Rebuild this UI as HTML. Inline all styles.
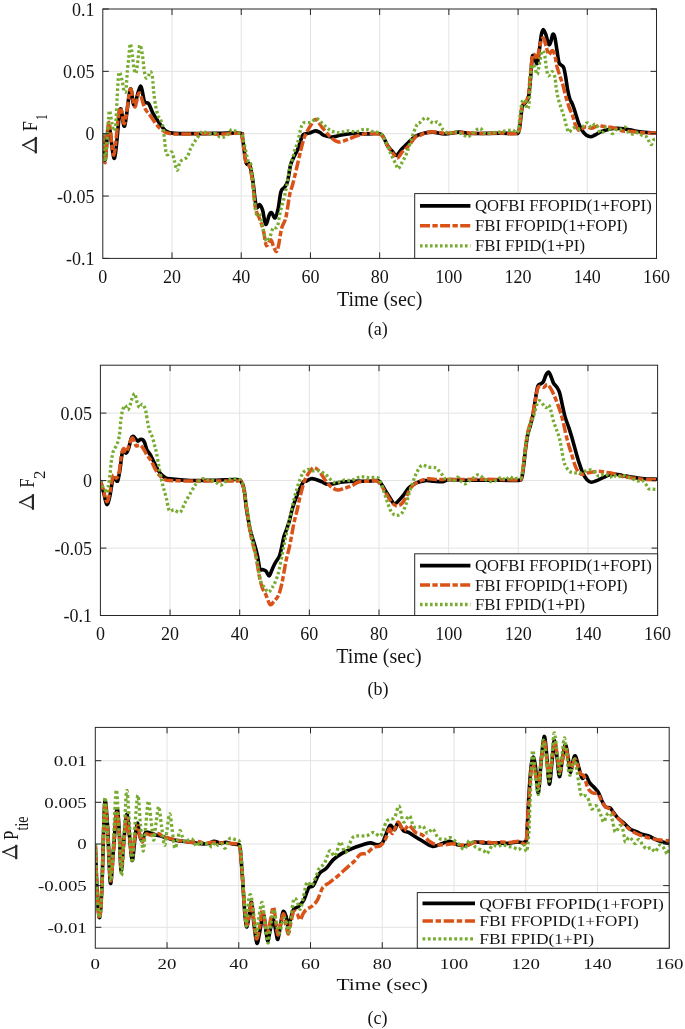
<!DOCTYPE html>
<html><head><meta charset="utf-8"><style>
html,body{margin:0;padding:0;background:#fff;width:685px;height:1029px;overflow:hidden}
svg{display:block;will-change:transform}
text{font-family:"Liberation Serif",serif;fill:#141414}
</style></head><body>
<svg width="685" height="1029" viewBox="0 0 685 1029">
<rect width="685" height="1029" fill="#fff"/>
<clipPath id="c1"><rect x="102.8" y="9.0" width="553.7" height="249.39999999999998"/></clipPath>
<path d="M172.01,9.0V258.4M241.23,9.0V258.4M310.44,9.0V258.4M379.65,9.0V258.4M448.86,9.0V258.4M518.08,9.0V258.4M587.29,9.0V258.4M102.8,71.35H656.5M102.8,133.70H656.5M102.8,196.05H656.5" stroke="#e3e3e3" stroke-width="1" fill="none"/>
<g clip-path="url(#c1)" fill="none" stroke-linejoin="round">
<path d="M102.5,133.5C102.9,137.9 104.0,161.3 105.1,160.1C106.1,158.8 107.2,126.3 108.8,126.0C110.4,125.7 112.6,160.9 114.5,158.2C116.4,155.4 118.5,114.9 120.2,109.5C121.9,104.1 122.9,129.4 124.6,126.0C126.3,122.6 128.7,92.8 130.3,89.3C131.9,85.8 132.4,105.6 134.1,105.1C135.8,104.6 138.7,86.8 140.4,86.2C142.1,85.6 143.1,98.6 144.5,101.5C145.9,104.4 147.2,101.5 148.6,103.5C150.0,105.5 151.1,109.9 153.0,113.3C154.9,116.7 157.9,121.1 160.0,124.0C162.1,126.9 163.4,129.3 165.8,130.9C168.2,132.5 168.9,133.0 174.6,133.4C180.3,133.8 192.4,133.6 200.0,133.6C207.6,133.6 213.3,133.4 220.0,133.3C226.7,133.2 236.6,132.5 240.3,133.2C244.1,133.9 241.6,132.7 242.5,137.5C243.4,142.3 244.8,157.8 246.0,162.3C247.2,166.8 248.5,161.8 249.6,164.5C250.7,167.2 251.4,171.5 252.5,178.4C253.6,185.3 255.0,201.7 256.2,206.1C257.4,210.5 258.7,204.0 259.8,204.7C260.9,205.4 261.7,207.2 262.7,210.5C263.7,213.8 264.6,223.7 265.7,224.4C266.8,225.1 268.3,216.9 269.3,214.9C270.3,212.9 270.5,212.2 271.5,212.7C272.5,213.2 274.0,218.4 275.1,217.8C276.2,217.2 277.1,213.4 278.1,209.0C279.1,204.6 279.9,195.1 281.0,191.5C282.1,187.9 283.5,188.9 284.6,187.2C285.7,185.5 286.6,185.0 287.6,181.3C288.6,177.7 289.5,169.2 290.5,165.3C291.5,161.4 292.2,160.7 293.4,158.0C294.6,155.3 296.3,152.8 297.8,149.2C299.3,145.5 301.0,138.6 302.2,136.1C303.4,133.6 303.9,134.4 305.1,133.9C306.3,133.4 307.8,133.6 309.5,133.1C311.2,132.6 313.6,131.0 315.3,130.9C317.0,130.8 318.2,131.7 319.7,132.4C321.1,133.1 322.0,134.5 324.0,135.3C326.0,136.1 328.8,137.0 331.5,137.0C334.2,137.0 336.8,135.9 340.3,135.3C343.8,134.7 348.2,133.7 352.6,133.5C357.0,133.3 362.5,133.9 366.6,133.9C370.7,133.9 374.5,133.3 377.1,133.5C379.7,133.7 380.6,133.2 382.3,135.3C384.1,137.4 386.0,143.2 387.6,145.8C389.2,148.4 390.5,149.4 392.0,151.0C393.5,152.6 394.8,155.7 396.4,155.4C398.0,155.1 399.6,151.5 401.6,149.3C403.6,147.1 406.3,144.5 408.6,142.3C410.9,140.1 413.0,137.7 415.6,136.2C418.2,134.7 421.1,133.9 424.0,133.2C426.9,132.5 429.3,132.0 432.8,132.1C436.3,132.2 440.6,133.9 445.0,133.9C449.4,133.9 454.8,132.2 459.0,132.1C463.2,132.0 463.2,133.3 470.0,133.5C476.8,133.7 492.5,133.2 500.0,133.2C507.5,133.2 512.0,133.6 515.1,133.5C518.2,133.4 517.5,134.2 518.4,132.5C519.2,130.8 519.6,127.6 520.2,123.4C520.8,119.2 521.4,110.5 522.2,107.1C523.0,103.7 524.0,104.6 525.0,103.0C526.0,101.4 527.5,101.3 528.4,97.5C529.3,93.7 529.7,86.7 530.4,79.9C531.1,73.1 531.7,60.3 532.4,56.7C533.1,53.1 533.7,57.0 534.5,58.1C535.3,59.2 536.4,64.6 537.2,63.5C538.0,62.4 538.5,56.0 539.2,51.3C539.9,46.5 540.6,38.6 541.3,35.0C542.0,31.4 542.5,29.5 543.3,29.5C544.1,29.5 545.1,32.5 546.0,35.0C546.9,37.5 547.9,43.4 548.7,44.5C549.5,45.6 550.1,43.5 550.8,41.8C551.5,40.1 552.1,35.0 552.8,34.3C553.5,33.6 554.2,35.1 554.9,37.7C555.6,40.3 556.2,45.8 556.9,49.9C557.6,54.0 558.2,59.7 558.9,62.2C559.6,64.7 560.2,64.0 561.0,64.9C561.8,65.8 562.9,65.6 563.7,67.6C564.5,69.6 565.0,73.2 565.7,77.1C566.4,80.9 567.1,87.1 567.8,90.7C568.5,94.3 569.0,96.6 569.8,98.9C570.6,101.2 571.6,102.1 572.5,104.4C573.4,106.7 574.3,109.3 575.3,112.5C576.3,115.7 577.6,120.5 578.7,123.4C579.8,126.4 580.8,128.3 582.0,130.2C583.2,132.1 584.6,133.9 586.1,135.0C587.6,136.1 589.4,136.7 590.9,136.7C592.4,136.7 593.3,135.8 595.0,135.0C596.7,134.2 599.1,132.5 601.1,131.6C603.1,130.7 605.2,130.2 607.3,129.7C609.4,129.2 611.2,128.7 613.5,128.5C615.8,128.3 618.3,128.3 621.0,128.5C623.7,128.7 626.7,129.2 629.6,129.7C632.5,130.2 635.4,131.1 638.3,131.6C641.2,132.1 644.0,132.3 647.0,132.5C650.0,132.7 655.0,132.8 656.6,132.8" stroke="#000" stroke-width="3.6"/>
<path d="M102.5,133.5C102.9,138.3 104.0,164.5 105.1,162.6C106.1,160.7 107.3,123.5 108.8,122.2C110.3,120.9 112.1,157.3 113.9,155.0C115.7,152.7 117.8,113.5 119.6,108.2C121.4,102.9 122.8,126.6 124.6,123.4C126.4,120.2 128.6,92.0 130.3,89.3C132.0,86.6 133.2,106.4 134.7,107.0C136.2,107.6 137.5,92.9 139.2,93.1C140.9,93.3 142.9,104.4 144.8,108.2C146.7,112.0 148.7,113.4 150.5,115.9C152.3,118.4 154.0,121.3 155.6,123.4C157.2,125.5 158.3,127.0 160.0,128.5C161.7,130.0 163.8,131.4 165.8,132.3C167.8,133.2 168.0,133.5 172.0,133.8C176.0,134.1 184.5,134.1 190.0,134.0C195.5,133.9 200.0,133.5 205.0,133.5C210.0,133.5 214.1,134.2 220.0,134.2C225.9,134.2 236.8,132.7 240.5,133.5C244.2,134.3 241.4,134.2 242.3,139.0C243.2,143.8 244.8,157.7 246.0,162.3C247.2,166.9 248.5,163.5 249.6,166.7C250.7,169.9 251.5,174.5 252.5,181.3C253.5,188.1 254.2,201.3 255.4,207.6C256.6,213.9 258.4,215.4 259.8,219.3C261.2,223.2 262.4,226.6 263.5,231.0C264.6,235.4 265.2,244.1 266.4,245.5C267.6,246.9 269.6,239.4 270.8,239.7C272.0,239.9 272.7,245.1 273.7,247.0C274.7,248.9 275.8,251.9 276.6,251.4C277.5,250.9 278.0,248.0 278.8,244.1C279.6,240.2 280.6,232.1 281.7,228.0C282.8,223.9 284.4,222.7 285.4,219.3C286.4,215.9 286.9,211.7 287.6,207.6C288.3,203.5 288.9,198.4 289.7,194.5C290.5,190.6 291.6,188.3 292.7,184.2C293.8,180.0 295.0,175.2 296.3,169.6C297.6,164.0 299.4,156.0 300.7,150.7C302.0,145.3 303.1,140.9 304.3,137.5C305.5,134.1 306.8,132.1 307.9,130.0C309.0,127.9 309.7,126.8 311.0,125.0C312.3,123.2 313.8,119.0 315.8,119.5C317.8,120.0 320.2,125.2 322.8,128.3C325.4,131.4 328.9,135.6 331.5,137.9C334.1,140.2 335.9,141.7 338.5,142.0C341.1,142.3 344.4,140.7 347.3,139.7C350.2,138.7 352.9,137.2 356.1,136.2C359.3,135.2 363.1,133.9 366.6,133.5C370.1,133.1 374.5,133.5 377.1,133.9C379.7,134.3 380.6,134.0 382.3,136.0C384.1,138.0 386.0,143.1 387.6,145.8C389.2,148.5 390.4,150.0 392.0,152.0C393.6,154.0 395.6,157.9 397.2,158.0C398.8,158.1 399.7,154.8 401.6,152.8C403.5,150.8 406.3,148.4 408.6,145.8C410.9,143.2 413.7,138.7 415.6,137.0C417.5,135.3 418.6,136.1 420.0,135.5C421.4,134.9 421.9,134.1 424.0,133.5C426.1,132.9 429.3,131.9 432.8,131.8C436.3,131.8 440.5,133.1 445.0,133.2C449.5,133.3 454.2,132.4 460.0,132.5C465.8,132.6 473.3,133.4 480.0,133.5C486.7,133.6 493.8,133.1 500.0,133.0C506.2,132.9 514.1,135.1 517.5,133.0C520.9,130.9 519.4,125.2 520.2,120.7C521.0,116.2 521.3,108.9 522.2,105.7C523.1,102.5 524.6,103.4 525.6,101.6C526.6,99.8 527.6,99.3 528.4,94.8C529.2,90.3 529.7,80.8 530.4,74.4C531.1,68.1 531.7,60.0 532.4,56.7C533.1,53.4 533.7,54.2 534.5,54.7C535.3,55.2 536.4,60.5 537.2,59.5C538.0,58.5 538.4,52.0 539.2,48.6C540.0,45.2 541.1,40.6 541.9,39.0C542.7,37.4 543.3,37.9 544.0,39.0C544.7,40.1 545.2,43.3 546.0,45.9C546.8,48.5 547.9,53.7 548.7,54.7C549.5,55.7 550.1,52.7 550.8,52.0C551.5,51.3 552.1,50.0 552.8,50.6C553.5,51.2 554.2,52.8 554.9,55.4C555.6,58.0 556.0,62.7 556.9,66.3C557.8,69.9 559.3,73.9 560.3,77.1C561.3,80.3 562.1,82.1 563.0,85.3C563.9,88.5 564.7,92.6 565.7,96.2C566.7,99.8 568.0,103.9 569.1,107.1C570.2,110.3 571.5,112.2 572.5,115.2C573.5,118.2 574.3,122.3 575.3,124.8C576.3,127.3 577.6,129.5 578.7,130.2C579.8,130.9 580.8,129.4 582.0,128.8C583.2,128.2 584.5,126.9 586.1,126.8C587.7,126.7 589.7,128.3 591.6,128.2C593.5,128.1 595.2,126.3 597.4,126.0C599.6,125.7 602.5,126.4 604.8,126.6C607.1,126.8 608.9,126.9 611.0,127.3C613.1,127.7 615.1,128.5 617.2,129.1C619.3,129.7 620.9,130.6 623.4,131.0C625.9,131.4 629.0,131.3 632.1,131.6C635.2,131.9 637.9,132.6 642.0,132.8C646.1,133.0 654.2,132.8 656.6,132.8" stroke="#D95319" stroke-width="3.5" stroke-dasharray="10 2.4 5.3 2.4"/>
<path d="M102.5,133.5C102.7,136.0 103.4,144.1 103.8,148.7C104.2,153.3 104.6,162.4 105.1,161.3C105.6,160.2 106.4,148.7 106.9,142.4C107.4,136.1 107.8,128.7 108.2,123.4C108.6,118.1 108.9,110.8 109.5,110.8C110.1,110.8 111.3,120.0 112.0,123.4C112.7,126.8 113.3,131.0 113.9,131.0C114.5,131.0 115.3,128.9 115.8,123.4C116.3,117.9 116.6,106.6 117.1,98.2C117.6,89.8 118.2,75.9 119.0,72.9C119.8,70.0 121.3,77.5 122.1,80.5C122.9,83.5 123.4,88.9 124.0,90.6C124.6,92.3 125.4,93.5 125.9,90.6C126.4,87.6 126.7,79.0 127.2,72.9C127.7,66.8 128.6,58.9 129.1,54.0C129.6,49.1 129.8,43.8 130.3,43.8C130.8,43.8 131.6,49.8 132.2,54.0C132.8,58.2 133.5,65.9 134.1,69.1C134.7,72.2 135.4,74.4 136.0,72.9C136.6,71.4 137.3,64.9 137.9,60.3C138.5,55.7 139.1,46.1 139.8,45.1C140.5,44.1 141.6,49.8 142.3,54.0C143.0,58.2 143.6,66.4 144.2,70.4C144.8,74.4 145.4,77.2 146.1,78.0C146.8,78.8 147.9,76.5 148.6,75.4C149.3,74.3 149.9,71.4 150.5,71.6C151.1,71.8 151.9,73.3 152.4,76.7C152.9,80.1 153.2,87.1 153.7,91.9C154.2,96.7 154.9,101.7 155.6,105.7C156.3,109.7 157.4,113.8 158.1,115.9C158.8,118.0 159.2,116.6 160.0,118.4C160.8,120.2 162.2,123.2 162.9,126.5C163.6,129.8 163.8,133.6 164.4,138.2C165.0,142.8 165.4,151.9 166.6,154.2C167.8,156.5 170.4,150.8 171.7,152.0C173.0,153.2 173.7,158.4 174.6,161.5C175.5,164.6 176.2,170.3 177.2,170.3C178.2,170.3 178.8,163.7 180.4,161.5C182.0,159.3 185.3,159.4 187.0,157.2C188.7,155.0 189.4,151.1 190.7,148.4C192.0,145.7 193.4,143.5 195.0,141.1C196.6,138.7 198.9,135.4 200.1,133.8C201.3,132.2 201.2,131.8 202.3,131.6C203.4,131.4 205.1,132.1 206.7,132.6C208.3,133.1 210.3,134.3 211.8,134.5C213.3,134.7 214.2,133.1 215.5,133.5C216.8,133.9 218.5,136.4 219.9,137.0C221.3,137.6 222.8,137.5 224.2,137.0C225.6,136.5 227.4,135.1 228.6,133.8C229.8,132.5 230.4,129.9 231.5,129.4C232.6,128.9 234.0,130.3 235.2,130.9C236.4,131.5 237.7,132.6 238.8,133.1C239.9,133.6 241.0,132.5 241.8,134.0C242.6,135.5 242.8,137.4 243.8,141.9C244.9,146.4 246.9,157.0 248.1,160.9C249.3,164.8 250.0,159.5 251.0,165.3C252.0,171.1 253.1,187.9 254.0,195.9C254.9,203.9 255.2,210.2 256.2,213.4C257.2,216.6 258.6,212.0 259.8,214.9C261.0,217.8 262.4,226.6 263.5,231.0C264.6,235.4 265.3,240.2 266.4,241.2C267.5,242.2 268.9,239.0 270.0,236.8C271.1,234.6 271.8,229.7 273.0,228.0C274.2,226.3 276.1,229.3 277.3,226.6C278.5,223.9 279.2,216.6 280.3,212.0C281.4,207.4 282.8,203.2 283.9,198.8C285.0,194.4 285.8,190.8 286.8,185.7C287.8,180.6 288.7,172.8 289.7,168.2C290.7,163.6 291.8,161.2 292.7,158.0C293.6,154.8 294.0,151.9 294.9,149.2C295.8,146.5 296.8,145.3 297.8,141.9C298.8,138.5 299.7,132.0 300.7,128.8C301.7,125.6 302.0,124.0 303.6,122.9C305.2,121.9 308.3,123.2 310.5,122.5C312.7,121.8 314.6,118.4 316.6,118.6C318.7,118.8 320.6,122.0 322.8,123.9C325.0,125.8 327.2,128.5 329.8,130.0C332.4,131.5 335.6,132.5 338.5,132.7C341.4,132.8 344.4,131.1 347.3,130.9C350.2,130.8 353.2,132.1 356.1,131.8C359.0,131.5 361.9,129.2 364.8,129.2C367.7,129.2 371.0,131.1 373.6,131.8C376.2,132.5 378.6,131.8 380.6,133.5C382.6,135.2 384.1,138.8 385.8,142.3C387.6,145.8 389.5,151.0 391.1,154.5C392.7,158.0 394.3,161.0 395.5,163.3C396.7,165.7 397.1,168.6 398.1,168.6C399.1,168.6 400.1,165.9 401.6,163.3C403.1,160.7 405.1,157.2 406.9,152.8C408.6,148.4 410.5,141.5 412.1,137.0C413.7,132.5 415.2,128.0 416.5,125.6C417.8,123.2 418.4,123.8 420.0,122.5C421.6,121.2 423.7,117.7 425.8,117.8C427.9,117.9 430.8,122.3 432.8,123.0C434.8,123.7 436.2,121.0 438.0,122.2C439.8,123.4 441.6,128.2 443.3,130.0C445.1,131.8 446.5,132.9 448.5,133.2C450.5,133.5 453.1,131.6 455.5,131.8C457.9,132.0 460.6,133.5 462.6,134.4C464.7,135.3 466.1,137.3 467.8,137.0C469.6,136.7 471.1,134.1 473.1,132.7C475.1,131.2 478.0,128.2 480.0,128.3C482.0,128.4 483.2,132.8 485.3,133.5C487.4,134.2 489.7,133.0 492.3,132.7C494.9,132.4 497.9,132.2 501.1,131.8C504.3,131.4 508.8,130.0 511.6,130.0C514.4,130.0 516.3,134.3 517.7,131.8C519.1,129.3 519.5,120.2 520.2,115.2C521.0,110.2 521.4,104.1 522.2,101.6C523.0,99.1 524.2,99.2 525.0,100.3C525.8,101.4 526.3,107.7 527.0,108.4C527.7,109.1 528.4,109.2 529.0,104.4C529.6,99.7 529.9,86.2 530.4,79.9C530.9,73.6 531.1,68.6 531.8,66.3C532.5,64.0 533.6,64.9 534.5,66.3C535.4,67.7 536.4,74.6 537.2,74.4C538.0,74.2 538.4,68.8 539.2,64.9C540.0,61.1 541.0,52.9 541.9,51.3C542.8,49.7 543.9,52.2 544.7,55.4C545.5,58.6 546.0,66.9 546.7,70.3C547.4,73.7 547.8,75.6 548.7,75.8C549.6,76.0 551.1,71.5 552.1,71.7C553.1,71.9 554.2,74.4 554.9,77.1C555.6,79.8 555.6,84.4 556.2,88.0C556.8,91.6 557.4,95.3 558.3,98.9C559.2,102.5 560.7,106.6 561.7,109.8C562.7,113.0 563.5,114.8 564.4,118.0C565.3,121.2 566.3,126.4 567.1,128.8C567.9,131.2 568.3,132.2 569.1,132.2C569.9,132.2 570.9,129.6 571.9,128.8C572.9,128.0 574.1,127.5 575.3,127.5C576.5,127.5 577.9,129.0 579.3,128.8C580.6,128.6 582.0,127.1 583.4,126.1C584.8,125.1 586.1,122.7 587.4,122.9C588.7,123.1 590.0,127.1 591.2,127.3C592.5,127.5 593.7,124.1 594.9,124.2C596.1,124.3 597.8,126.5 598.6,127.9C599.4,129.3 599.1,132.2 599.9,132.8C600.7,133.4 602.6,132.5 603.6,131.6C604.6,130.7 605.1,127.6 606.1,127.3C607.1,127.0 608.8,128.7 609.8,129.7C610.8,130.7 611.3,133.5 612.3,133.5C613.3,133.5 614.6,130.4 616.0,129.7C617.4,129.0 619.4,129.5 620.9,129.1C622.4,128.7 624.0,126.8 625.3,127.3C626.5,127.8 627.2,131.1 628.4,132.2C629.6,133.3 631.2,134.0 632.7,134.1C634.2,134.2 635.6,132.6 637.1,132.8C638.6,133.0 640.4,134.6 642.0,135.3C643.6,136.0 645.9,136.3 647.0,137.2C648.1,138.1 648.1,139.7 648.8,140.9C649.5,142.1 650.5,144.8 651.3,144.6C652.1,144.4 652.9,140.6 653.8,139.7C654.7,138.8 656.1,139.1 656.6,139.0" stroke="#77AC30" stroke-width="3.3" stroke-dasharray="2.6 2.4"/>
</g>
<path d="M172.01,258.4v-6M172.01,9.0v6M241.23,258.4v-6M241.23,9.0v6M310.44,258.4v-6M310.44,9.0v6M379.65,258.4v-6M379.65,9.0v6M448.86,258.4v-6M448.86,9.0v6M518.08,258.4v-6M518.08,9.0v6M587.29,258.4v-6M587.29,9.0v6M102.8,9.00h6M656.5,9.00h-6M102.8,71.35h6M656.5,71.35h-6M102.8,133.70h6M656.5,133.70h-6M102.8,196.05h6M656.5,196.05h-6M102.8,258.40h6M656.5,258.40h-6" stroke="#262626" stroke-width="1" fill="none"/>
<rect x="102.8" y="9.0" width="553.7" height="249.39999999999998" fill="none" stroke="#262626" stroke-width="1"/>
<g font-size="18" transform="scale(1.0,1)"><text x="94.50" y="15.50" text-anchor="end">0.1</text><text x="94.50" y="77.85" text-anchor="end">0.05</text><text x="94.50" y="140.20" text-anchor="end">0</text><text x="94.50" y="202.55" text-anchor="end">-0.05</text><text x="94.50" y="264.90" text-anchor="end">-0.1</text><text x="102.80" y="282.50" text-anchor="middle">0</text><text x="172.01" y="282.50" text-anchor="middle">20</text><text x="241.23" y="282.50" text-anchor="middle">40</text><text x="310.44" y="282.50" text-anchor="middle">60</text><text x="379.65" y="282.50" text-anchor="middle">80</text><text x="448.86" y="282.50" text-anchor="middle">100</text><text x="518.08" y="282.50" text-anchor="middle">120</text><text x="587.29" y="282.50" text-anchor="middle">140</text><text x="656.50" y="282.50" text-anchor="middle">160</text></g>
<text font-size="20" transform="scale(1.0,1)" x="379.65" y="306" text-anchor="middle">Time (sec)</text>
<g stroke="#262626" fill="none" stroke-linecap="square"><path d="M35.80,138.00V152.30" stroke-width="2.2"/><path d="M36.10,138.40L23.10,145.20" stroke-width="1.7"/><path d="M23.10,145.20L36.10,151.90" stroke-width="1.1"/></g><text font-size="20" transform="matrix(0,-0.9100,1.0538,0,36.90,131.16)">F</text><text font-size="16" transform="matrix(0,-0.7143,1.0673,0,47.00,119.94)">1</text>
<rect x="414.7" y="193.6" width="241.8" height="64.79999999999998" fill="#fff" stroke="#262626" stroke-width="1"/>
<path d="M420.0,205.9H470.4" stroke="#000" stroke-width="3.6"/>
<path d="M420.0,225.8H470.4" stroke="#D95319" stroke-width="3.5" stroke-dasharray="10 2.4 5.3 2.4"/>
<path d="M420.0,245.8H470.4" stroke="#77AC30" stroke-width="3.3" stroke-dasharray="2.6 2.4"/>
<g font-size="16.2" transform="scale(1.03,1)"><text x="461.17" y="211.50">QOFBI FFOPID(1+FOPI)</text><text x="461.17" y="231.40">FBI FFOPID(1+FOPI)</text><text x="461.17" y="251.40">FBI FPID(1+PI)</text></g>
<text font-size="18" x="377.7" y="335.2" text-anchor="middle">(a)</text>
<clipPath id="c2"><rect x="100.4" y="365.2" width="557.2" height="250.3"/></clipPath>
<path d="M170.05,365.2V615.5M239.70,365.2V615.5M309.35,365.2V615.5M379.00,365.2V615.5M448.65,365.2V615.5M518.30,365.2V615.5M587.95,365.2V615.5M100.4,413.10H657.6M100.4,480.60H657.6M100.4,548.10H657.6" stroke="#e3e3e3" stroke-width="1" fill="none"/>
<g clip-path="url(#c2)" fill="none" stroke-linejoin="round">
<path d="M100.3,480.3C100.9,482.5 102.7,489.4 103.8,493.4C104.9,497.4 105.8,503.9 106.8,504.5C107.8,505.1 108.7,500.9 109.7,496.9C110.7,492.9 111.7,483.6 112.6,480.5C113.5,477.4 114.1,477.9 114.9,478.0C115.7,478.1 116.7,482.5 117.6,481.0C118.5,479.5 119.5,472.6 120.1,468.8C120.7,465.0 121.0,461.2 121.4,458.3C121.8,455.4 122.2,452.6 122.7,451.3C123.2,450.0 123.9,450.1 124.5,450.4C125.1,450.7 125.5,453.4 126.2,453.0C126.9,452.6 128.0,450.1 128.8,447.8C129.6,445.5 130.3,440.9 131.0,439.0C131.7,437.1 132.4,436.4 133.2,436.4C134.0,436.4 135.0,438.2 135.8,439.0C136.6,439.8 137.3,441.1 138.0,441.2C138.7,441.3 139.5,439.8 140.2,439.5C140.9,439.2 141.7,439.0 142.4,439.5C143.1,440.0 143.9,440.8 144.6,442.5C145.3,444.2 145.9,447.4 146.8,449.5C147.8,451.6 149.1,452.8 150.3,454.8C151.5,456.9 152.6,459.5 153.8,461.8C155.0,464.1 156.1,466.8 157.3,468.8C158.5,470.8 159.5,472.5 160.8,474.0C162.1,475.5 163.7,476.8 165.2,477.6C166.7,478.4 165.9,478.4 170.0,478.9C174.1,479.4 183.3,480.3 190.0,480.5C196.7,480.7 202.3,480.5 210.0,480.3C217.7,480.1 231.0,479.4 236.2,479.5C241.3,479.6 239.6,479.5 240.9,481.1C242.2,482.7 243.1,484.5 244.0,488.9C244.9,493.3 245.6,502.5 246.3,507.5C247.0,512.5 247.5,515.1 248.2,519.1C248.9,523.1 249.6,527.4 250.6,531.5C251.6,535.6 253.2,539.9 254.4,544.0C255.6,548.1 256.7,552.2 257.6,556.4C258.5,560.5 259.0,566.7 259.9,568.9C260.8,571.1 262.0,569.2 263.0,569.6C264.0,570.0 265.1,570.2 266.1,571.2C267.1,572.2 268.2,576.3 269.2,575.9C270.2,575.5 271.3,571.1 272.3,568.9C273.3,566.7 274.2,564.7 275.4,562.6C276.6,560.5 278.2,559.0 279.3,556.4C280.4,553.8 280.9,550.5 281.7,547.1C282.5,543.7 283.2,539.1 284.0,536.2C284.8,533.4 285.4,532.6 286.3,530.0C287.2,527.4 288.4,524.3 289.4,520.7C290.4,517.1 291.4,511.8 292.5,508.2C293.6,504.6 294.6,501.8 295.7,498.9C296.8,496.0 297.5,494.0 298.8,491.1C300.1,488.2 302.1,483.5 303.4,481.8C304.7,480.1 305.2,481.5 306.5,481.0C307.8,480.5 309.6,479.0 311.2,478.7C312.8,478.4 314.1,478.9 315.9,479.4C317.7,479.9 320.2,481.0 322.1,481.8C324.0,482.6 325.0,483.9 327.0,484.2C329.0,484.5 331.4,484.2 334.0,483.8C336.6,483.4 339.3,482.4 342.8,482.0C346.3,481.6 350.6,481.3 355.0,481.2C359.4,481.1 365.2,481.3 369.0,481.2C372.8,481.1 375.8,480.2 377.8,480.6C379.9,481.0 379.8,481.8 381.3,483.8C382.8,485.8 385.0,490.0 386.6,492.6C388.2,495.2 389.7,497.7 391.0,499.6C392.3,501.5 393.2,503.9 394.5,504.0C395.8,504.1 397.2,502.0 398.8,500.4C400.4,498.8 402.4,496.5 404.1,494.3C405.9,492.1 407.2,489.2 409.3,487.3C411.4,485.4 413.8,484.0 416.4,482.9C419.0,481.8 422.2,480.9 425.1,480.6C428.0,480.3 430.9,481.0 433.9,481.2C436.9,481.4 440.6,481.9 443.1,481.6C445.6,481.4 444.5,479.9 449.0,479.7C453.5,479.5 461.5,480.2 470.0,480.3C478.5,480.4 492.0,480.1 500.0,480.1C508.0,480.1 514.6,480.7 518.2,480.4C521.8,480.1 520.7,480.8 521.6,478.4C522.5,476.0 522.9,471.1 523.6,466.1C524.3,461.1 524.9,453.6 525.6,448.4C526.3,443.2 526.9,438.6 527.7,434.8C528.5,431.0 529.5,428.7 530.4,425.3C531.3,421.9 532.2,419.2 533.1,414.4C534.0,409.6 535.0,401.4 535.8,396.7C536.6,391.9 537.1,388.0 537.9,385.9C538.7,383.8 539.7,384.5 540.6,383.8C541.5,383.1 542.4,383.3 543.3,381.8C544.2,380.3 545.1,376.6 546.0,375.0C546.9,373.4 547.8,371.8 548.7,372.2C549.6,372.6 550.7,375.9 551.5,377.7C552.3,379.5 552.6,381.5 553.5,383.1C554.4,384.7 555.9,385.6 556.9,387.2C557.9,388.8 558.7,389.8 559.6,392.7C560.5,395.6 561.4,400.8 562.3,404.9C563.2,409.0 564.1,413.5 565.1,417.1C566.1,420.7 567.4,423.3 568.5,426.7C569.6,430.1 570.8,433.8 571.9,437.6C573.0,441.5 574.1,445.5 575.3,449.8C576.5,454.1 577.9,459.3 579.3,463.4C580.6,467.5 582.1,471.6 583.4,474.3C584.7,477.0 585.7,478.5 587.0,479.8C588.3,481.1 589.5,482.2 591.2,482.3C592.9,482.4 595.3,481.2 597.4,480.4C599.5,479.6 601.5,478.2 603.6,477.3C605.7,476.4 607.7,475.3 609.8,474.8C611.9,474.3 613.9,474.1 616.0,474.2C618.1,474.3 619.9,475.0 622.2,475.4C624.5,475.8 627.1,476.3 629.6,476.7C632.1,477.1 634.6,477.5 637.1,477.9C639.6,478.2 641.0,478.6 644.5,478.8C648.0,479.0 655.6,479.1 657.8,479.2" stroke="#000" stroke-width="3.6"/>
<path d="M100.3,480.3C100.8,481.9 102.2,486.3 103.3,489.9C104.4,493.4 105.7,501.0 106.8,501.6C107.9,502.2 108.7,497.4 109.7,493.4C110.7,489.4 111.9,480.7 112.6,477.6C113.3,474.5 113.3,474.8 113.9,474.9C114.5,475.0 115.3,478.5 116.1,478.4C116.9,478.2 118.1,476.8 118.8,474.0C119.5,471.2 119.9,465.6 120.5,461.8C121.1,458.0 121.7,453.5 122.3,451.3C122.9,449.1 123.3,448.5 124.0,448.6C124.7,448.8 125.4,452.6 126.2,452.2C127.0,451.8 128.0,448.1 128.8,446.0C129.6,443.9 130.3,441.2 131.0,439.9C131.7,438.6 132.1,437.5 132.8,438.1C133.5,438.7 134.4,442.1 135.0,443.4C135.6,444.7 135.5,445.7 136.3,446.0C137.1,446.3 138.6,444.7 139.8,445.1C141.0,445.5 142.1,447.0 143.3,448.6C144.5,450.2 145.5,452.8 146.8,454.8C148.1,456.9 149.8,458.4 151.2,460.9C152.6,463.4 154.1,467.2 155.5,469.7C156.9,472.2 158.3,474.1 159.9,475.8C161.5,477.5 163.5,478.9 165.2,479.7C166.9,480.5 165.9,480.3 170.0,480.5C174.1,480.7 179.0,480.9 190.0,481.0C201.0,481.1 227.5,480.8 236.0,481.0C244.5,481.2 239.6,480.8 240.9,482.0C242.2,483.2 242.8,484.4 243.6,488.0C244.4,491.6 245.0,497.3 245.9,503.5C246.8,509.7 248.0,519.1 249.0,525.3C250.0,531.5 250.9,535.7 252.1,540.9C253.3,546.1 254.8,550.7 256.0,556.4C257.2,562.1 258.1,569.9 259.1,575.1C260.1,580.3 261.0,584.1 262.2,587.5C263.4,590.9 264.8,592.4 266.1,595.3C267.4,598.1 268.7,603.6 270.0,604.6C271.3,605.6 272.5,603.0 273.9,601.5C275.3,600.0 277.2,598.1 278.5,595.3C279.8,592.4 280.8,588.3 281.7,584.4C282.6,580.5 283.2,576.1 284.0,572.0C284.8,567.9 285.4,563.6 286.3,559.5C287.2,555.4 288.5,551.2 289.4,547.1C290.3,543.0 291.0,538.8 291.8,534.6C292.6,530.5 293.2,526.3 294.1,522.2C295.0,518.1 296.2,514.2 297.2,509.8C298.2,505.4 299.1,500.5 300.3,495.8C301.5,491.1 302.9,485.4 304.2,481.8C305.5,478.2 306.6,476.3 308.1,474.0C309.7,471.7 311.7,468.3 313.5,467.8C315.3,467.3 317.0,468.8 319.0,470.9C321.0,473.0 323.4,477.7 325.3,480.3C327.2,482.9 328.5,484.8 330.5,486.4C332.5,488.0 335.2,489.6 337.5,489.9C339.8,490.2 342.2,488.9 344.5,488.2C346.8,487.5 349.2,486.9 351.5,485.9C353.8,484.9 355.9,482.8 358.5,482.0C361.1,481.2 364.4,481.4 367.3,481.2C370.2,481.0 373.8,479.9 376.1,480.6C378.4,481.3 379.6,483.2 381.3,485.5C383.1,487.8 384.9,491.5 386.6,494.3C388.4,497.1 390.2,500.3 391.8,502.2C393.4,504.1 394.6,505.4 396.2,505.7C397.8,506.0 399.9,505.2 401.5,503.9C403.1,502.6 404.2,500.6 405.8,497.8C407.4,495.0 409.1,489.9 411.1,487.3C413.2,484.7 415.5,483.4 418.1,482.0C420.7,480.6 424.0,479.3 426.9,478.9C429.8,478.5 431.8,479.3 435.6,479.4C439.5,479.5 442.6,479.5 450.0,479.5C457.4,479.5 471.7,479.3 480.0,479.3C488.3,479.3 493.6,479.4 500.0,479.5C506.4,479.6 514.9,480.4 518.5,480.0C522.1,479.6 520.6,480.7 521.6,477.0C522.6,473.3 523.4,464.8 524.3,458.0C525.2,451.2 526.1,441.6 527.0,436.2C527.9,430.8 528.8,428.7 529.7,425.3C530.6,421.9 531.5,419.9 532.4,415.8C533.3,411.7 534.3,405.5 535.2,400.8C536.1,396.1 537.0,390.3 537.9,387.9C538.8,385.5 539.6,386.6 540.6,386.5C541.6,386.4 542.9,387.5 544.0,387.2C545.1,386.9 546.3,384.3 547.4,384.5C548.5,384.7 549.8,387.0 550.8,388.6C551.8,390.2 552.5,391.7 553.5,394.0C554.5,396.3 555.8,399.2 556.9,402.2C558.0,405.1 559.3,408.5 560.3,411.7C561.3,414.9 562.1,417.6 563.0,421.2C563.9,424.8 564.8,429.6 565.7,433.5C566.6,437.4 567.5,440.8 568.5,444.4C569.5,448.0 570.8,451.6 571.9,455.2C573.0,458.8 574.1,463.2 575.3,466.1C576.5,469.1 577.9,471.5 579.3,472.9C580.6,474.3 582.0,474.3 583.4,474.3C584.8,474.3 586.2,473.2 587.5,472.9C588.8,472.6 589.4,472.6 591.2,472.3C593.1,472.0 596.3,471.3 598.6,471.3C600.9,471.3 602.7,471.8 604.8,472.1C606.9,472.4 608.9,472.6 611.0,473.0C613.1,473.4 615.1,474.2 617.2,474.8C619.3,475.4 620.9,476.2 623.4,476.7C625.9,477.2 629.0,477.5 632.1,477.9C635.2,478.3 637.7,478.9 642.0,479.2C646.3,479.5 655.2,479.7 657.8,479.8" stroke="#D95319" stroke-width="3.5" stroke-dasharray="10 2.4 5.3 2.4"/>
<path d="M100.3,480.5C100.7,481.5 102.0,484.9 102.7,486.4C103.4,487.8 104.1,488.1 104.7,489.2C105.3,490.3 106.1,493.2 106.6,493.1C107.1,493.0 107.4,490.1 107.8,488.4C108.2,486.7 108.5,485.4 108.9,483.0C109.3,480.6 109.7,477.0 110.1,473.7C110.5,470.4 110.7,466.1 111.1,463.0C111.5,459.9 112.0,457.1 112.4,455.0C112.8,452.9 113.0,451.7 113.6,450.3C114.2,448.9 115.2,447.8 115.9,446.4C116.6,445.0 117.4,443.4 117.9,441.8C118.4,440.2 118.7,438.7 119.0,437.1C119.3,435.5 119.5,435.2 119.8,432.4C120.1,429.6 120.4,423.8 120.8,420.5C121.2,417.2 121.7,414.5 122.1,412.4C122.5,410.3 122.9,409.2 123.4,408.0C123.9,406.8 124.4,405.1 125.1,405.4C125.8,405.7 127.0,409.8 127.8,409.8C128.6,409.8 129.4,406.9 130.0,405.4C130.6,403.9 130.8,402.2 131.3,400.6C131.8,399.0 132.4,397.0 133.0,395.8C133.6,394.6 134.3,393.2 134.8,393.6C135.3,394.0 135.7,396.8 136.1,398.4C136.5,400.0 136.8,401.7 137.4,403.2C138.0,404.7 138.8,407.5 139.6,407.6C140.4,407.8 141.3,404.0 142.2,404.1C143.1,404.2 144.2,406.5 144.9,408.0C145.6,409.5 145.7,410.7 146.2,413.3C146.7,415.9 147.4,421.2 147.9,423.8C148.4,426.4 148.8,427.4 149.2,429.0C149.6,430.6 150.0,432.1 150.5,433.4C151.0,434.7 151.6,435.1 152.3,437.0C153.0,438.9 153.8,442.4 154.5,445.0C155.2,447.6 155.7,449.1 156.4,452.5C157.1,455.9 157.9,461.1 158.7,465.4C159.5,469.7 160.3,474.5 161.1,478.2C161.9,481.9 162.5,484.2 163.4,487.5C164.3,490.8 165.3,494.1 166.3,498.0C167.3,501.9 168.0,508.6 169.3,510.6C170.6,512.6 172.2,509.6 174.0,509.9C175.8,510.2 178.4,513.4 180.2,512.2C182.0,511.0 183.1,506.3 184.9,502.9C186.7,499.5 189.3,495.1 191.1,492.0C192.9,488.9 194.0,486.4 195.8,484.2C197.6,482.0 200.2,479.6 202.0,478.8C203.8,478.0 204.6,479.1 206.7,479.5C208.8,479.9 212.1,480.2 214.4,481.1C216.7,482.0 218.9,484.9 220.7,485.0C222.5,485.1 223.5,482.9 225.3,481.9C227.1,480.9 229.4,479.2 231.5,478.8C233.6,478.4 236.1,479.1 237.8,479.5C239.5,479.9 240.6,479.5 241.6,481.1C242.6,482.7 243.2,484.6 244.0,488.9C244.8,493.2 245.7,500.4 246.7,506.7C247.7,513.0 248.8,520.9 249.8,526.9C250.8,532.9 251.9,537.5 252.9,542.4C253.9,547.3 255.1,552.0 256.0,556.4C256.9,560.8 257.5,564.8 258.3,568.9C259.1,573.0 259.7,578.2 260.7,581.3C261.7,584.4 263.2,585.7 264.5,587.5C265.8,589.3 267.1,592.2 268.4,592.2C269.7,592.2 271.0,589.6 272.3,587.5C273.6,585.4 275.0,582.8 276.2,579.7C277.4,576.6 278.3,573.3 279.3,568.9C280.3,564.5 281.5,558.0 282.4,553.3C283.3,548.6 283.9,545.3 284.8,540.9C285.7,536.5 286.9,531.6 287.9,526.9C288.9,522.2 290.0,517.6 291.0,512.9C292.0,508.2 293.1,503.0 294.1,498.9C295.1,494.8 296.2,491.4 297.2,488.0C298.2,484.6 299.3,481.3 300.3,478.7C301.3,476.1 302.1,474.0 303.4,472.4C304.7,470.8 306.5,469.6 308.1,469.3C309.7,469.1 311.0,470.6 312.8,470.9C314.6,471.2 316.9,470.3 319.0,470.9C321.1,471.4 323.4,472.8 325.3,474.2C327.2,475.6 328.8,477.9 330.5,479.4C332.2,480.8 333.8,482.8 335.8,482.9C337.9,483.0 340.2,480.7 342.8,480.3C345.4,479.9 348.6,480.9 351.5,480.3C354.4,479.7 357.4,477.2 360.3,476.8C363.2,476.4 366.1,477.6 369.0,477.7C371.9,477.8 375.8,476.7 377.8,477.7C379.9,478.7 380.1,481.0 381.3,483.8C382.5,486.6 383.6,490.8 384.8,494.3C386.0,497.8 387.1,501.7 388.3,504.8C389.5,507.9 390.5,511.0 391.8,512.7C393.1,514.5 394.6,515.1 396.2,515.3C397.8,515.4 399.9,515.4 401.5,513.6C403.1,511.9 404.5,508.3 405.8,504.8C407.1,501.3 408.1,496.4 409.3,492.6C410.5,488.8 411.7,485.2 412.9,482.0C414.1,478.8 414.9,476.1 416.4,473.3C417.8,470.5 419.6,466.4 421.6,465.4C423.6,464.4 426.4,466.8 428.6,467.2C430.9,467.6 433.4,467.1 435.1,467.7C436.8,468.3 437.6,469.5 438.8,470.7C440.0,471.9 441.3,473.7 442.4,475.0C443.5,476.3 444.2,478.0 445.3,478.7C446.4,479.4 447.6,479.0 449.0,479.4C450.4,479.8 451.9,481.3 453.4,480.9C454.8,480.5 456.5,477.2 457.7,477.2C458.9,477.2 459.5,479.8 460.7,480.9C461.9,482.0 463.6,483.8 465.0,483.8C466.4,483.8 468.0,481.9 469.4,480.9C470.8,479.9 471.9,479.0 473.1,478.0C474.3,477.0 475.5,475.4 476.7,475.0C477.9,474.6 479.2,475.2 480.4,475.8C481.6,476.4 482.7,477.9 484.0,478.7C485.3,479.5 486.9,480.4 488.4,480.9C489.9,481.4 491.2,481.9 492.8,481.6C494.4,481.4 496.4,480.1 497.9,479.4C499.3,478.7 500.2,477.1 501.5,477.2C502.8,477.3 504.5,480.2 505.9,480.1C507.2,480.0 508.4,476.7 509.6,476.5C510.8,476.3 511.9,478.4 513.2,478.7C514.5,478.9 516.2,478.3 517.6,478.0C519.0,477.7 520.6,479.4 521.6,477.0C522.6,474.6 522.8,469.3 523.6,463.4C524.4,457.5 525.4,447.3 526.3,441.6C527.2,435.9 528.1,432.8 529.0,429.4C529.9,426.0 530.9,423.9 531.8,421.2C532.7,418.5 533.6,416.1 534.5,413.1C535.4,410.2 536.3,405.6 537.2,403.5C538.1,401.4 538.9,400.6 539.9,400.8C540.9,401.0 542.3,403.8 543.3,404.9C544.3,406.0 545.1,407.6 546.0,407.6C546.9,407.6 547.9,404.4 548.7,404.9C549.5,405.3 550.0,407.6 550.8,410.3C551.6,413.0 552.5,417.8 553.5,421.2C554.5,424.6 555.9,427.8 556.9,430.7C557.9,433.6 558.8,435.7 559.6,438.9C560.4,442.1 561.0,446.2 561.7,449.8C562.4,453.4 563.0,458.0 563.7,460.7C564.4,463.4 564.7,464.3 565.7,466.1C566.7,467.9 568.2,470.5 569.8,471.6C571.4,472.7 573.5,472.7 575.3,472.9C577.1,473.1 579.3,473.1 580.7,472.9C582.1,472.7 582.6,472.1 583.7,471.7C584.8,471.3 586.1,470.8 587.4,470.5C588.6,470.2 590.0,469.6 591.2,469.9C592.5,470.2 593.7,471.3 594.9,472.3C596.1,473.3 597.4,475.7 598.6,476.1C599.8,476.5 601.0,475.1 602.3,474.8C603.5,474.5 604.9,473.8 606.1,474.2C607.4,474.6 608.6,477.2 609.8,477.3C611.0,477.4 612.3,474.8 613.5,474.8C614.7,474.8 615.8,477.2 617.2,477.3C618.7,477.4 620.6,475.5 622.2,475.4C623.9,475.3 625.5,476.2 627.1,476.7C628.8,477.2 630.4,477.8 632.1,478.5C633.8,479.2 635.5,480.7 637.1,481.0C638.8,481.3 640.5,479.9 642.0,480.4C643.5,480.9 644.8,482.8 645.8,484.1C646.8,485.5 647.2,487.7 648.2,488.5C649.2,489.3 650.4,488.9 652.0,489.1C653.6,489.3 656.8,489.4 657.8,489.5" stroke="#77AC30" stroke-width="3.3" stroke-dasharray="2.6 2.4"/>
</g>
<path d="M170.05,615.5v-6M170.05,365.2v6M239.70,615.5v-6M239.70,365.2v6M309.35,615.5v-6M309.35,365.2v6M379.00,615.5v-6M379.00,365.2v6M448.65,615.5v-6M448.65,365.2v6M518.30,615.5v-6M518.30,365.2v6M587.95,615.5v-6M587.95,365.2v6M100.4,413.10h6M657.6,413.10h-6M100.4,480.60h6M657.6,480.60h-6M100.4,548.10h6M657.6,548.10h-6M100.4,615.50h6M657.6,615.50h-6" stroke="#262626" stroke-width="1" fill="none"/>
<rect x="100.4" y="365.2" width="557.2" height="250.3" fill="none" stroke="#262626" stroke-width="1"/>
<g font-size="18" transform="scale(1.0,1)"><text x="92.00" y="419.60" text-anchor="end">0.05</text><text x="92.00" y="487.10" text-anchor="end">0</text><text x="92.00" y="554.60" text-anchor="end">-0.05</text><text x="92.00" y="622.00" text-anchor="end">-0.1</text><text x="100.40" y="639.50" text-anchor="middle">0</text><text x="170.05" y="639.50" text-anchor="middle">20</text><text x="239.70" y="639.50" text-anchor="middle">40</text><text x="309.35" y="639.50" text-anchor="middle">60</text><text x="379.00" y="639.50" text-anchor="middle">80</text><text x="448.65" y="639.50" text-anchor="middle">100</text><text x="518.30" y="639.50" text-anchor="middle">120</text><text x="587.95" y="639.50" text-anchor="middle">140</text><text x="657.60" y="639.50" text-anchor="middle">160</text></g>
<text font-size="20" transform="scale(1.0,1)" x="379.00" y="663" text-anchor="middle">Time (sec)</text>
<g stroke="#262626" fill="none" stroke-linecap="square"><path d="M32.90,495.30V508.70" stroke-width="2.2"/><path d="M33.20,495.70L20.00,502.30" stroke-width="1.7"/><path d="M20.00,502.30L33.20,508.30" stroke-width="1.1"/></g><text font-size="20" transform="matrix(0,-0.8400,1.0154,0,34.00,487.82)">F</text><text font-size="16" transform="matrix(0,-1.0469,1.0962,0,44.50,478.94)">2</text>
<rect x="414.7" y="553.8" width="242.90000000000003" height="61.700000000000045" fill="#fff" stroke="#262626" stroke-width="1"/>
<path d="M420.0,565.6H470.4" stroke="#000" stroke-width="3.6"/>
<path d="M420.0,585.1H470.4" stroke="#D95319" stroke-width="3.5" stroke-dasharray="10 2.4 5.3 2.4"/>
<path d="M420.0,604.5H470.4" stroke="#77AC30" stroke-width="3.3" stroke-dasharray="2.6 2.4"/>
<g font-size="16.2" transform="scale(1.03,1)"><text x="461.17" y="571.20">QOFBI FFOPID(1+FOPI)</text><text x="461.17" y="590.70">FBI FFOPID(1+FOPI)</text><text x="461.17" y="610.10">FBI FPID(1+PI)</text></g>
<text font-size="18" x="377.9" y="695.3" text-anchor="middle">(b)</text>
<clipPath id="c3"><rect x="95.3" y="727.4" width="573.9000000000001" height="220.80000000000007"/></clipPath>
<path d="M167.04,727.4V948.2M238.78,727.4V948.2M310.51,727.4V948.2M382.25,727.4V948.2M453.99,727.4V948.2M525.73,727.4V948.2M597.46,727.4V948.2M95.3,760.70H669.2M95.3,802.30H669.2M95.3,844.00H669.2M95.3,885.60H669.2M95.3,927.30H669.2" stroke="#e3e3e3" stroke-width="1" fill="none"/>
<g clip-path="url(#c3)" fill="none" stroke-linejoin="round">
<path d="M95.3,844.1C95.6,852.6 96.6,882.8 97.3,895.0C98.0,907.2 98.9,919.2 99.7,917.5C100.5,915.8 101.2,904.0 102.0,885.0C102.8,866.0 103.8,813.0 104.7,803.3C105.6,793.6 106.6,813.3 107.6,826.6C108.5,839.9 109.4,879.1 110.4,883.0C111.4,886.9 112.3,862.3 113.4,850.0C114.5,837.7 115.9,812.1 116.9,809.2C117.9,806.3 118.6,822.2 119.3,832.5C120.0,842.8 120.3,869.5 121.1,870.8C121.9,872.0 123.0,849.4 123.9,840.0C124.9,830.6 125.9,815.6 126.8,814.4C127.7,813.1 128.3,824.8 129.2,832.5C130.1,840.2 131.1,859.5 132.1,860.5C133.1,861.5 134.1,844.5 135.0,838.3C135.9,832.1 136.5,823.7 137.3,823.1C138.1,822.5 138.9,831.9 139.7,834.8C140.5,837.7 141.0,841.0 142.0,840.6C143.0,840.2 144.2,833.8 145.5,832.5C146.8,831.2 148.3,832.4 150.0,832.8C151.7,833.2 154.1,834.5 155.8,835.0C157.5,835.5 158.7,835.4 160.2,835.8C161.7,836.2 162.6,836.6 164.6,837.2C166.6,837.8 169.5,838.8 171.9,839.4C174.3,840.0 176.8,840.5 179.2,840.9C181.6,841.3 184.1,841.3 186.5,841.6C188.9,841.9 191.4,842.2 193.8,842.6C196.2,843.0 198.7,843.6 201.1,843.8C203.5,843.9 206.2,843.9 208.4,843.5C210.6,843.1 212.2,841.3 214.2,841.2C216.1,841.1 218.1,842.9 220.1,843.1C222.1,843.3 223.9,842.2 225.9,842.3C227.9,842.4 229.9,843.4 231.8,843.8C233.8,844.2 236.2,844.1 237.6,844.5C238.9,844.9 239.3,843.8 239.9,846.3C240.5,848.8 240.6,853.2 241.1,859.2C241.6,865.2 242.3,875.3 242.8,882.5C243.3,889.7 243.6,896.6 244.0,902.4C244.4,908.2 244.7,913.4 245.2,917.5C245.7,921.6 246.2,927.5 246.9,926.9C247.6,926.3 248.5,918.1 249.3,914.0C250.1,909.9 250.8,900.8 251.6,902.4C252.4,904.0 253.0,916.6 253.9,923.4C254.8,930.2 255.9,941.9 256.9,943.2C257.9,944.6 258.7,936.4 259.8,931.5C260.9,926.6 262.2,913.8 263.3,914.0C264.4,914.2 265.4,928.2 266.2,932.7C267.0,937.2 267.3,941.5 268.0,940.9C268.7,940.3 269.4,932.9 270.3,929.2C271.2,925.5 272.2,918.1 273.2,918.7C274.2,919.3 275.3,929.3 276.1,932.7C276.9,936.1 277.1,940.7 277.9,939.1C278.7,937.5 279.9,928.0 280.8,923.4C281.7,918.8 282.2,912.9 283.1,911.7C284.0,910.5 285.2,913.7 286.1,916.4C287.0,919.1 287.6,927.6 288.4,928.0C289.2,928.4 289.8,921.8 290.7,918.7C291.6,915.6 292.4,911.4 293.6,909.4C294.8,907.4 296.1,908.5 297.7,907.0C299.3,905.5 301.6,903.9 303.5,900.7C305.4,897.5 307.2,890.1 308.8,887.6C310.4,885.1 311.4,888.1 313.1,885.8C314.9,883.5 317.1,876.5 319.3,873.6C321.5,870.7 324.0,870.6 326.3,868.3C328.6,866.0 330.7,862.1 333.3,859.6C335.9,857.1 339.1,855.1 342.0,853.4C344.9,851.6 347.6,850.5 350.8,849.1C354.0,847.7 358.1,846.2 361.3,845.2C364.5,844.2 367.5,843.0 370.1,842.9C372.7,842.8 375.1,844.7 377.1,844.7C379.1,844.7 380.9,844.5 382.3,842.9C383.8,841.3 384.5,837.9 385.8,835.0C387.1,832.1 388.7,826.3 390.2,825.4C391.7,824.5 393.3,830.2 394.6,829.8C395.9,829.4 396.6,822.6 398.1,822.8C399.6,822.9 401.6,829.1 403.4,830.7C405.1,832.3 406.3,831.2 408.6,832.4C410.9,833.6 414.4,836.1 417.0,837.7C419.6,839.3 421.4,840.5 424.0,842.0C426.6,843.5 429.9,846.1 432.8,846.4C435.7,846.7 438.7,844.7 441.5,843.8C444.3,842.9 446.8,841.1 449.4,841.2C452.0,841.4 454.5,844.0 457.3,844.7C460.1,845.4 463.2,846.0 466.1,845.5C469.0,845.0 471.6,842.4 474.8,842.0C478.0,841.6 481.5,842.8 485.3,842.9C489.1,843.0 493.8,842.8 497.6,842.9C501.4,843.0 504.9,843.5 508.1,843.4C511.3,843.2 513.9,842.4 516.9,842.0C519.9,841.6 524.2,843.9 526.0,841.0C527.8,838.1 526.9,832.4 527.4,824.9C527.9,817.4 528.3,805.4 528.9,795.7C529.5,786.0 530.4,773.0 531.1,766.5C531.8,760.0 532.5,757.0 533.2,757.0C533.9,757.0 534.5,760.5 535.4,766.5C536.3,772.5 537.4,794.0 538.4,792.8C539.4,791.6 540.3,768.6 541.3,759.2C542.3,749.8 543.4,737.8 544.2,736.6C545.1,735.4 545.5,744.0 546.4,751.9C547.2,759.8 548.3,782.8 549.3,784.0C550.3,785.2 551.4,766.5 552.2,759.2C553.1,751.9 553.5,740.2 554.4,740.2C555.2,740.2 556.4,753.1 557.3,759.2C558.1,765.3 558.6,776.7 559.5,776.7C560.4,776.7 561.4,764.6 562.4,759.2C563.4,753.9 564.4,744.6 565.4,744.6C566.4,744.6 567.4,754.6 568.3,759.2C569.1,763.8 569.6,772.3 570.5,772.3C571.4,772.3 572.5,761.9 573.4,759.2C574.2,756.5 574.8,755.1 575.6,756.3C576.5,757.5 577.4,762.9 578.5,766.5C579.6,770.1 581.0,776.7 582.2,778.2C583.4,779.7 584.6,774.6 585.8,775.3C587.0,776.0 588.2,780.6 589.5,782.6C590.8,784.6 592.3,785.3 593.8,787.0C595.3,788.7 597.1,790.5 598.5,792.8C599.9,795.1 600.8,798.7 602.0,801.0C603.2,803.3 604.1,805.6 605.5,806.8C606.9,808.0 608.8,807.0 610.2,808.0C611.6,809.0 612.3,811.0 613.7,812.7C615.1,814.5 616.6,816.8 618.4,818.5C620.1,820.2 622.3,821.5 624.2,823.2C626.1,825.0 628.0,827.6 630.0,829.0C632.0,830.4 633.9,830.5 635.9,831.4C637.9,832.3 639.6,833.5 641.7,834.3C643.8,835.1 646.4,835.1 648.7,836.0C651.0,836.9 653.4,838.5 655.7,839.5C658.0,840.5 660.5,841.2 662.7,841.9C665.0,842.6 668.1,843.3 669.2,843.6" stroke="#000" stroke-width="3.6"/>
<path d="M95.3,844.1C95.6,852.9 96.6,884.7 97.3,897.0C98.0,909.3 98.9,920.2 99.7,918.0C100.5,915.8 101.2,902.8 102.0,884.0C102.8,865.2 103.8,814.0 104.7,805.0C105.6,796.0 106.6,817.4 107.6,830.0C108.6,842.6 109.6,877.2 110.6,880.5C111.6,883.8 112.6,861.2 113.6,850.0C114.6,838.8 115.5,815.5 116.5,813.0C117.5,810.5 118.5,826.2 119.3,835.0C120.1,843.8 120.5,865.2 121.3,866.0C122.1,866.8 123.1,848.0 124.0,840.0C124.9,832.0 125.6,818.8 126.5,818.0C127.4,817.2 128.3,828.8 129.2,835.0C130.1,841.2 130.9,854.5 131.8,855.0C132.7,855.5 133.9,842.8 134.8,838.0C135.8,833.2 136.6,826.3 137.5,826.0C138.4,825.7 139.2,833.3 140.0,836.0C140.8,838.7 141.5,842.3 142.5,842.0C143.5,841.7 144.8,835.2 146.0,834.0C147.2,832.8 147.9,835.1 150.0,835.0C152.1,834.9 156.6,833.2 158.8,833.6C161.0,834.0 161.4,836.4 163.1,837.2C164.8,838.0 166.8,837.7 169.0,838.2C171.2,838.7 173.9,839.6 176.3,840.1C178.7,840.6 181.2,840.8 183.6,841.2C186.0,841.6 188.5,842.2 190.9,842.3C193.3,842.4 195.8,841.4 198.2,841.6C200.6,841.8 203.3,843.4 205.5,843.5C207.7,843.6 209.1,842.4 211.3,842.3C213.5,842.1 216.2,842.5 218.6,842.6C221.0,842.7 223.2,842.9 225.9,843.1C228.6,843.3 232.5,843.4 234.7,843.8C236.9,844.2 238.0,842.7 239.1,845.3C240.2,847.9 240.5,853.0 241.1,859.2C241.7,865.4 242.3,874.9 242.8,882.5C243.3,890.1 243.8,899.0 244.3,905.0C244.8,911.0 245.3,915.4 245.8,918.7C246.3,922.0 246.8,926.0 247.5,924.6C248.2,923.2 249.2,914.0 249.9,910.5C250.6,907.0 250.9,901.8 251.6,903.5C252.3,905.2 253.1,915.1 253.9,921.0C254.7,926.9 255.4,937.0 256.3,938.6C257.2,940.2 258.2,935.3 259.2,930.4C260.2,925.5 261.1,910.6 262.1,909.4C263.1,908.2 264.1,919.5 265.0,923.4C265.9,927.3 266.5,933.1 267.4,932.7C268.3,932.3 269.3,925.3 270.3,921.0C271.3,916.7 272.3,907.4 273.2,907.0C274.1,906.6 274.7,914.0 275.5,918.7C276.3,923.4 277.0,934.4 277.9,935.0C278.8,935.6 279.8,925.7 280.8,922.2C281.8,918.7 282.8,913.4 283.7,914.0C284.6,914.6 285.3,922.4 286.1,925.7C286.9,929.0 287.6,934.3 288.4,933.9C289.2,933.5 289.8,927.1 290.7,923.4C291.6,919.7 292.5,913.3 293.6,911.7C294.7,910.1 296.1,912.6 297.2,914.0C298.3,915.4 299.1,919.9 300.1,919.9C301.1,919.9 301.9,915.8 303.0,914.0C304.1,912.2 304.9,910.7 306.5,909.4C308.1,908.1 310.5,907.6 312.3,906.0C314.1,904.4 315.8,903.0 317.5,899.9C319.2,896.8 320.8,890.5 322.8,887.6C324.9,884.7 327.2,884.3 329.8,882.3C332.4,880.2 335.6,877.8 338.5,875.3C341.4,872.8 344.7,869.7 347.3,867.4C349.9,865.1 352.1,863.5 354.3,861.3C356.5,859.1 358.3,855.6 360.4,854.3C362.4,853.0 364.4,854.6 366.6,853.4C368.8,852.2 371.3,848.6 373.6,847.3C375.9,846.0 378.6,847.0 380.6,845.5C382.6,844.0 384.4,841.3 385.8,838.5C387.2,835.7 388.1,829.8 389.3,828.9C390.5,828.0 391.4,834.5 392.9,833.3C394.4,832.1 396.4,822.3 398.1,821.9C399.9,821.5 401.6,830.1 403.4,830.7C405.1,831.3 406.9,825.4 408.6,825.4C410.4,825.4 412.5,829.4 413.9,830.7C415.3,832.0 415.6,832.6 417.0,833.3C418.4,834.0 420.2,833.7 422.3,835.0C424.4,836.3 427.0,839.6 429.3,841.2C431.6,842.8 433.7,844.1 436.3,844.7C438.9,845.3 442.4,844.9 445.0,844.7C447.6,844.6 449.6,843.8 452.0,843.8C454.4,843.8 456.8,844.4 459.1,844.7C461.5,845.0 463.8,845.8 466.1,845.5C468.4,845.2 470.8,843.5 473.1,842.9C475.4,842.3 477.8,842.1 480.1,842.0C482.4,841.9 484.8,841.9 487.1,842.0C489.4,842.1 491.8,842.9 494.1,842.9C496.4,842.9 498.5,842.1 501.1,842.0C503.7,841.9 507.0,842.5 509.9,842.4C512.8,842.3 516.0,841.1 518.6,841.2C521.2,841.3 524.1,846.1 525.6,842.9C527.1,839.7 526.9,829.1 527.4,822.0C527.9,814.9 528.3,808.5 528.9,800.0C529.5,791.5 530.4,777.1 531.1,771.0C531.8,764.9 532.4,762.4 533.2,763.6C534.1,764.8 535.3,774.6 536.2,778.2C537.1,781.9 537.5,788.7 538.4,785.5C539.2,782.3 540.3,766.8 541.3,759.2C542.3,751.7 543.4,740.9 544.2,740.2C545.1,739.5 545.5,748.9 546.4,755.0C547.2,761.1 548.3,776.4 549.3,776.7C550.3,777.0 551.2,762.6 552.2,757.0C553.2,751.4 554.2,742.6 555.1,743.1C556.0,743.6 556.9,755.4 557.8,760.0C558.7,764.6 559.4,771.4 560.3,770.9C561.2,770.4 562.1,761.1 563.0,757.0C563.9,752.9 564.5,745.6 565.4,746.0C566.3,746.4 567.3,755.5 568.3,759.2C569.3,762.9 570.1,768.0 571.2,768.0C572.3,768.0 573.9,759.7 574.9,759.2C575.9,758.7 576.5,762.6 577.5,765.0C578.5,767.4 579.6,772.0 580.7,773.8C581.8,775.6 582.8,773.6 584.0,776.0C585.2,778.4 586.6,785.6 588.0,788.4C589.4,791.2 591.2,792.0 592.4,792.8C593.6,793.6 594.0,793.1 595.0,793.4C596.0,793.7 597.3,793.1 598.5,794.6C599.7,796.1 600.8,800.2 602.0,802.2C603.2,804.2 604.1,805.6 605.5,806.8C606.9,808.0 608.6,807.8 610.2,809.2C611.8,810.6 613.1,813.0 614.9,815.0C616.6,817.0 618.8,818.9 620.7,820.9C622.6,822.9 624.5,825.0 626.5,826.7C628.5,828.5 630.2,830.0 632.4,831.4C634.5,832.8 637.1,833.9 639.4,834.9C641.7,835.9 644.1,836.5 646.4,837.2C648.7,837.9 651.1,838.4 653.4,838.9C655.7,839.4 657.8,839.8 660.4,840.1C663.0,840.4 667.7,840.6 669.2,840.7" stroke="#D95319" stroke-width="3.5" stroke-dasharray="10.4 2.7 5.4 2.7"/>
<path d="M95.3,844.1C95.6,852.8 96.6,883.8 97.3,896.0C98.0,908.2 98.9,919.5 99.7,917.5C100.5,915.5 101.2,903.8 102.0,884.0C102.8,864.2 103.8,806.9 104.7,798.7C105.6,790.5 106.6,821.3 107.6,835.0C108.6,848.7 109.7,880.2 110.7,881.0C111.7,881.8 112.6,855.2 113.5,840.0C114.4,824.8 115.4,791.6 116.3,789.9C117.2,788.2 118.1,815.7 119.0,830.0C119.9,844.3 120.7,875.6 121.6,875.6C122.5,875.6 123.4,844.2 124.3,830.0C125.2,815.8 125.9,791.3 126.8,790.5C127.7,789.7 128.6,813.0 129.5,825.0C130.4,837.0 131.2,862.8 132.1,862.8C133.0,862.8 134.0,836.3 135.0,825.0C136.0,813.7 137.0,795.2 137.9,795.2C138.8,795.2 139.6,815.7 140.5,825.0C141.4,834.3 142.3,851.1 143.2,851.1C144.1,851.1 144.9,833.4 145.8,825.0C146.7,816.6 147.5,801.8 148.4,801.0C149.3,800.2 150.1,813.5 151.0,820.0C151.9,826.5 152.7,839.8 153.6,840.1C154.5,840.4 155.3,827.6 156.2,822.0C157.1,816.4 157.9,805.9 158.8,806.6C159.7,807.3 160.5,819.5 161.5,826.0C162.5,832.5 163.7,844.6 164.6,845.3C165.5,846.0 166.2,835.2 167.0,830.0C167.8,824.8 168.8,813.9 169.7,813.9C170.6,813.9 171.3,824.3 172.2,830.0C173.0,835.7 173.9,846.5 174.8,848.2C175.7,849.9 176.7,842.9 177.5,840.0C178.3,837.1 179.1,831.2 179.9,830.7C180.7,830.2 181.7,835.1 182.5,837.0C183.3,838.9 184.0,841.8 185.0,842.3C186.0,842.8 187.4,840.6 188.5,840.0C189.6,839.4 190.7,838.4 191.6,838.7C192.5,839.0 193.2,840.7 194.0,842.0C194.8,843.3 195.8,846.5 196.7,846.4C197.6,846.3 198.6,842.0 199.6,841.6C200.6,841.2 201.1,843.4 202.6,843.8C204.1,844.2 206.8,843.3 208.4,843.8C210.0,844.3 210.9,847.2 212.0,847.0C213.1,846.8 214.0,842.6 215.0,842.3C216.0,842.0 216.8,845.0 217.9,845.3C219.0,845.5 220.3,843.3 221.5,843.8C222.7,844.3 223.8,849.1 225.2,848.2C226.5,847.4 228.0,840.2 229.6,838.7C231.2,837.2 233.1,839.0 234.7,839.4C236.3,839.8 238.1,839.4 239.1,840.9C240.1,842.4 240.0,844.1 240.5,848.2C241.0,852.3 241.5,858.7 242.0,865.7C242.5,872.7 243.0,882.3 243.5,890.0C244.0,897.7 244.5,906.0 245.0,912.0C245.5,918.0 245.8,927.7 246.4,925.7C247.0,923.7 247.9,905.0 248.7,900.0C249.5,895.0 250.2,893.4 251.0,895.4C251.8,897.4 252.5,905.1 253.4,911.7C254.3,918.3 255.4,933.8 256.3,935.0C257.2,936.2 257.6,924.1 258.6,918.7C259.6,913.3 261.0,901.6 262.1,902.4C263.2,903.2 264.0,916.6 265.0,923.4C266.0,930.2 267.0,943.2 268.0,943.2C269.0,943.2 269.9,929.0 270.9,923.4C271.9,917.8 272.8,909.0 273.8,909.4C274.8,909.8 275.7,921.8 276.7,925.7C277.7,929.6 278.6,933.5 279.6,932.7C280.6,931.9 281.6,923.3 282.6,921.0C283.6,918.7 284.5,916.8 285.5,918.7C286.5,920.7 287.5,932.7 288.4,932.7C289.3,932.7 289.8,924.2 290.7,918.7C291.6,913.2 292.6,903.1 293.6,900.0C294.6,896.9 295.5,898.4 296.6,900.0C297.7,901.6 299.0,909.6 300.1,909.4C301.2,909.2 301.9,903.5 303.0,899.0C304.1,894.5 305.6,884.5 307.0,882.3C308.4,880.1 309.9,886.7 311.4,885.8C312.9,884.9 314.5,880.0 315.8,877.1C317.1,874.2 317.9,870.6 319.3,868.3C320.8,866.0 322.8,866.0 324.5,863.1C326.2,860.2 328.1,852.0 329.8,850.8C331.6,849.6 333.2,857.6 335.0,856.1C336.8,854.6 338.6,842.6 340.3,842.0C342.1,841.4 343.4,853.3 345.5,852.6C347.6,851.9 350.2,840.5 352.6,837.7C355.0,834.9 357.3,836.2 359.6,835.9C361.9,835.6 364.3,836.5 366.6,835.9C368.9,835.3 371.3,832.4 373.6,832.4C375.9,832.4 378.6,837.5 380.6,835.9C382.6,834.3 384.4,825.6 385.8,822.8C387.2,820.0 387.8,820.2 389.3,819.3C390.8,818.4 393.0,819.7 394.6,817.5C396.2,815.3 397.5,805.4 399.0,806.1C400.5,806.8 401.6,820.3 403.4,821.9C405.1,823.5 407.8,815.1 409.5,815.8C411.2,816.5 411.9,824.4 413.5,826.3C415.1,828.2 417.2,827.2 418.8,827.2C420.4,827.2 421.7,825.3 423.1,826.3C424.6,827.3 425.9,832.9 427.5,833.3C429.1,833.7 431.1,828.2 432.8,828.9C434.6,829.6 436.0,836.0 438.0,837.7C440.0,839.5 442.9,839.4 445.0,839.4C447.1,839.4 448.2,837.1 450.3,837.7C452.4,838.3 455.0,841.0 457.3,842.9C459.6,844.8 462.2,849.5 464.3,849.1C466.4,848.7 467.7,840.6 469.6,840.3C471.5,840.0 473.4,845.5 475.7,847.3C478.0,849.0 481.7,849.8 483.6,850.8C485.5,851.8 485.7,854.3 487.1,853.4C488.6,852.5 490.6,846.7 492.3,845.5C494.1,844.3 495.8,846.5 497.6,846.4C499.4,846.3 501.1,844.7 502.9,844.7C504.6,844.7 506.4,846.0 508.1,846.4C509.9,846.8 511.6,846.8 513.4,847.3C515.1,847.8 516.9,850.0 518.6,849.7C520.3,849.4 522.4,845.0 523.8,845.3C525.1,845.5 525.9,853.4 526.7,851.2C527.6,849.0 528.3,841.5 528.9,832.2C529.5,823.0 529.8,807.9 530.3,795.7C530.8,783.5 531.3,766.6 531.8,759.2C532.3,751.8 532.6,748.8 533.2,751.2C533.8,753.6 534.5,766.6 535.4,773.8C536.3,781.0 537.4,796.6 538.4,794.2C539.4,791.8 540.4,768.2 541.3,759.2C542.1,750.2 542.6,740.1 543.5,740.2C544.4,740.3 545.4,753.2 546.4,760.0C547.4,766.8 548.3,782.4 549.3,781.1C550.3,779.8 551.4,760.0 552.2,752.0C553.1,744.0 553.5,732.4 554.4,732.9C555.2,733.4 556.4,748.2 557.3,755.0C558.1,761.8 558.6,774.3 559.5,773.8C560.4,773.3 561.5,758.0 562.4,752.0C563.2,746.0 563.8,736.7 564.6,738.0C565.4,739.3 566.4,753.8 567.3,760.0C568.1,766.2 568.8,774.5 569.7,775.3C570.6,776.1 571.6,767.7 572.5,765.0C573.4,762.3 574.1,758.2 574.9,759.2C575.6,760.2 576.3,766.5 577.0,770.9C577.7,775.3 578.5,781.4 579.2,785.5C579.9,789.6 580.4,794.0 581.4,795.7C582.4,797.4 583.9,795.2 585.0,795.7C586.1,796.2 586.9,796.4 588.0,798.6C589.1,800.8 590.5,807.6 591.6,808.8C592.7,810.0 593.5,806.3 594.5,806.0C595.5,805.7 596.2,805.3 597.3,806.8C598.3,808.3 599.7,812.5 600.8,815.0C601.9,817.5 602.8,822.0 603.8,822.0C604.8,822.0 605.6,816.5 606.7,815.0C607.8,813.5 609.2,812.3 610.2,813.3C611.2,814.3 611.7,817.9 612.5,820.9C613.3,823.9 614.1,829.8 614.9,831.4C615.7,833.0 616.3,831.2 617.2,830.2C618.1,829.2 619.1,825.5 620.1,825.5C621.1,825.5 622.1,827.5 623.0,830.2C623.9,832.9 624.4,840.7 625.4,841.9C626.4,843.1 627.7,837.5 628.9,837.2C630.1,836.9 631.3,839.0 632.4,840.1C633.5,841.2 634.2,843.7 635.3,843.6C636.4,843.5 637.6,839.4 638.8,839.5C640.0,839.6 641.0,842.6 642.3,844.2C643.6,845.8 644.9,848.3 646.4,848.9C647.9,849.5 649.6,847.2 651.1,847.7C652.6,848.2 653.8,852.2 655.1,851.8C656.5,851.4 658.0,846.4 659.2,845.4C660.4,844.4 661.2,845.2 662.2,846.0C663.2,846.8 664.2,848.7 665.1,850.1C666.0,851.5 666.7,854.8 667.4,854.2C668.1,853.6 668.9,847.8 669.2,846.5" stroke="#77AC30" stroke-width="3.3" stroke-dasharray="2.8 2.5"/>
</g>
<path d="M167.04,948.2v-6M167.04,727.4v6M238.78,948.2v-6M238.78,727.4v6M310.51,948.2v-6M310.51,727.4v6M382.25,948.2v-6M382.25,727.4v6M453.99,948.2v-6M453.99,727.4v6M525.73,948.2v-6M525.73,727.4v6M597.46,948.2v-6M597.46,727.4v6M95.3,760.70h6M669.2,760.70h-6M95.3,802.30h6M669.2,802.30h-6M95.3,844.00h6M669.2,844.00h-6M95.3,885.60h6M669.2,885.60h-6M95.3,927.30h6M669.2,927.30h-6" stroke="#262626" stroke-width="1" fill="none"/>
<rect x="95.3" y="727.4" width="573.9000000000001" height="220.80000000000007" fill="none" stroke="#262626" stroke-width="1"/>
<g font-size="15" transform="scale(1.26,1)"><text x="68.89" y="766.00" text-anchor="end">0.01</text><text x="68.89" y="807.60" text-anchor="end">0.005</text><text x="68.89" y="849.30" text-anchor="end">0</text><text x="68.89" y="890.90" text-anchor="end">-0.005</text><text x="68.89" y="932.60" text-anchor="end">-0.01</text><text x="75.63" y="969.50" text-anchor="middle">0</text><text x="132.57" y="969.50" text-anchor="middle">20</text><text x="189.50" y="969.50" text-anchor="middle">40</text><text x="246.44" y="969.50" text-anchor="middle">60</text><text x="303.37" y="969.50" text-anchor="middle">80</text><text x="360.31" y="969.50" text-anchor="middle">100</text><text x="417.24" y="969.50" text-anchor="middle">120</text><text x="474.18" y="969.50" text-anchor="middle">140</text><text x="531.11" y="969.50" text-anchor="middle">160</text></g>
<text font-size="17.5" transform="scale(1.225,1)" x="312.04" y="990.5" text-anchor="middle">Time (sec)</text>
<g stroke="#262626" fill="none" stroke-linecap="square"><path d="M16.20,845.90V858.10" stroke-width="2.2"/><path d="M16.50,846.30L3.10,852.00" stroke-width="1.7"/><path d="M3.10,852.00L16.50,857.70" stroke-width="1.1"/></g><text font-size="20" transform="matrix(0,-0.8400,1.1000,0,17.50,840.12)">P</text><text font-size="16" transform="matrix(0,-0.8618,1.1250,0,28.30,830.44)">tie</text>
<rect x="417.3" y="892.6" width="251.90000000000003" height="55.60000000000002" fill="#fff" stroke="#262626" stroke-width="1"/>
<path d="M422.5,903.4H475.0" stroke="#000" stroke-width="3.6"/>
<path d="M422.5,921.0H475.0" stroke="#D95319" stroke-width="3.5" stroke-dasharray="10.4 2.7 5.4 2.7"/>
<path d="M422.5,938.8H475.0" stroke="#77AC30" stroke-width="3.3" stroke-dasharray="2.8 2.5"/>
<g font-size="14.4" transform="scale(1.212,1)"><text x="395.38" y="908.60">QOFBI FFOPID(1+FOPI)</text><text x="395.38" y="926.20">FBI FFOPID(1+FOPI)</text><text x="395.38" y="944.00">FBI FPID(1+PI)</text></g>
<text font-size="18" x="377.6" y="1024" text-anchor="middle">(c)</text>
</svg>
</body></html>
